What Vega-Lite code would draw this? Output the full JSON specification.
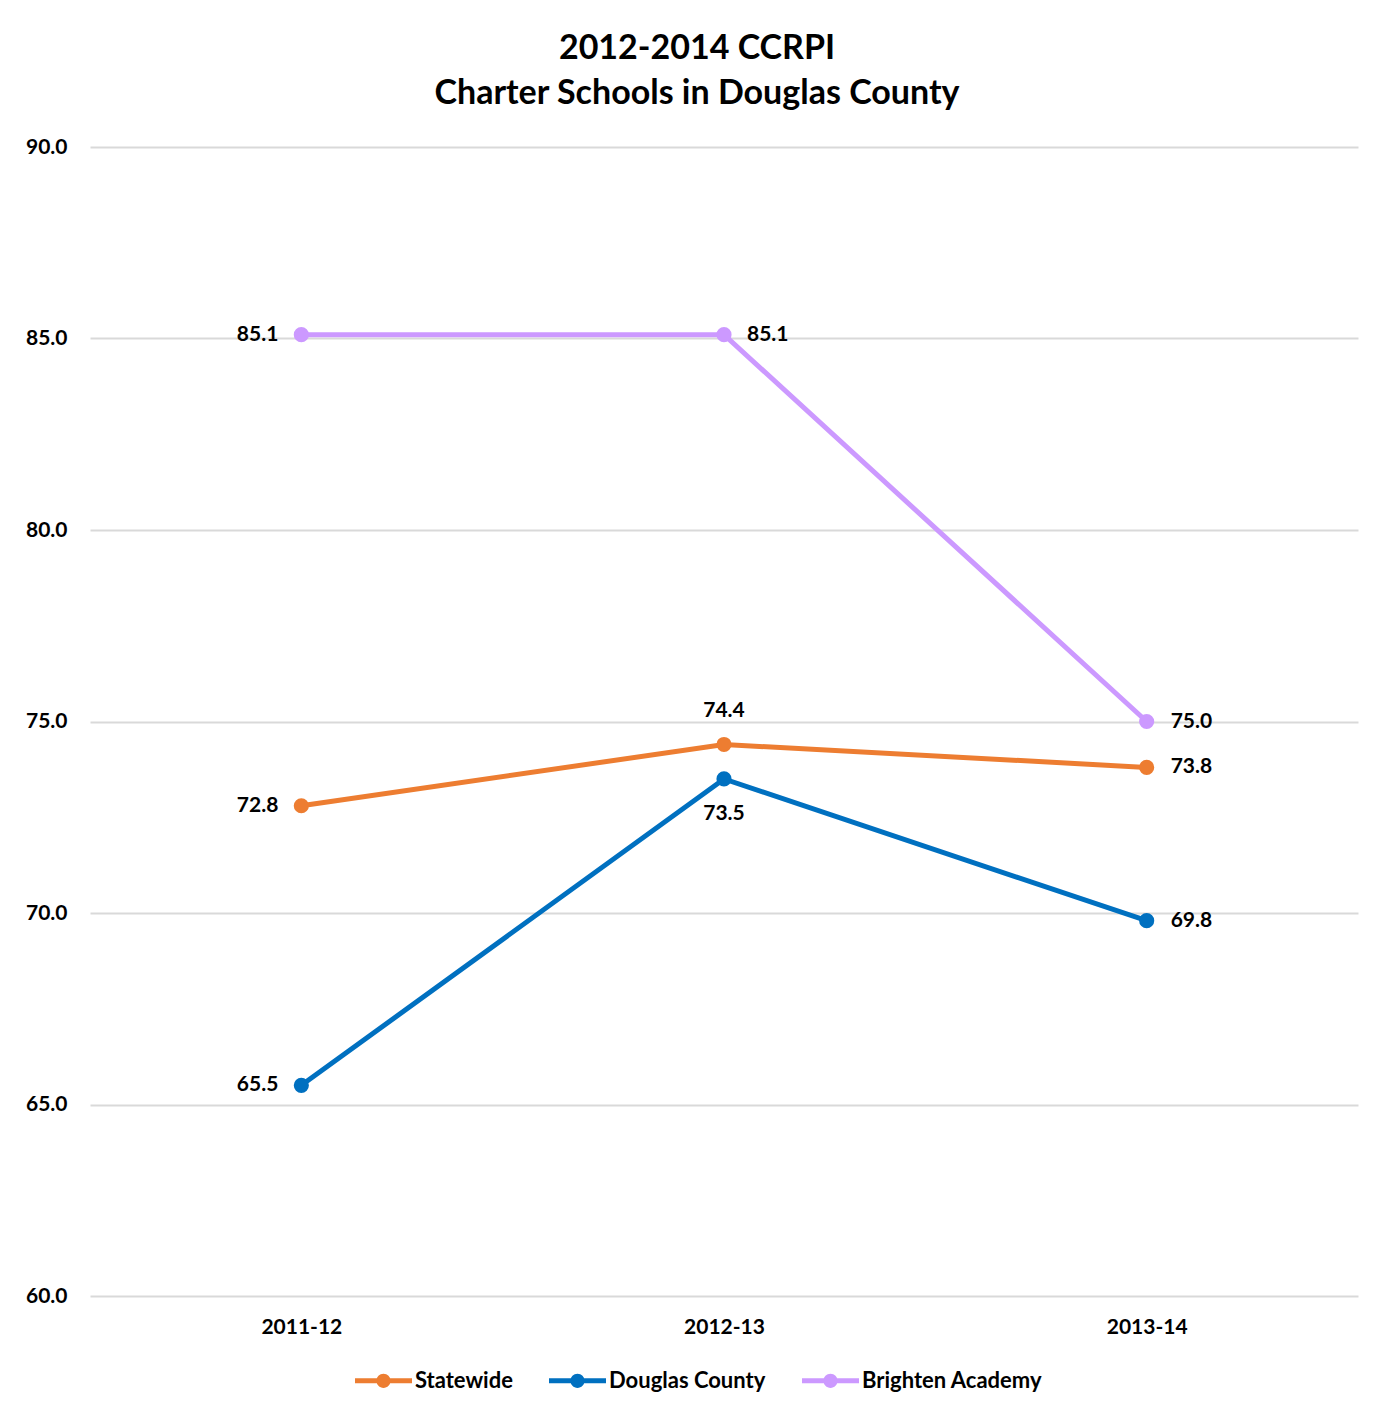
{
  "$schema": "https://vega.github.io/schema/vega-lite/v6.json",
  "width": 1268,
  "height": 1149,
  "autosize": {"type": "none"},
  "padding": {"left": 90, "top": 147, "right": 37, "bottom": 118},
  "background": "white",
  "config": {"view": {"stroke": null}},
  "title": {
    "text": ["2012-2014 CCRPI", "Charter Schools in Douglas County"],
    "font": "Lato", "fontSize": 34, "fontWeight": "bold", "color": "#000",
    "anchor": "middle", "dx": -27, "offset": 25, "lineHeight": 45
  },
  "data": {"values": [
    {"year": "2011-12", "series": "Statewide", "value": 72.8},
    {"year": "2012-13", "series": "Statewide", "value": 74.4},
    {"year": "2013-14", "series": "Statewide", "value": 73.8},
    {"year": "2011-12", "series": "Douglas County", "value": 65.5},
    {"year": "2012-13", "series": "Douglas County", "value": 73.5},
    {"year": "2013-14", "series": "Douglas County", "value": 69.8},
    {"year": "2011-12", "series": "Brighten Academy", "value": 85.1},
    {"year": "2012-13", "series": "Brighten Academy", "value": 85.1},
    {"year": "2013-14", "series": "Brighten Academy", "value": 75.0}
  ]},
  "encoding": {
    "x": {"field": "year", "type": "ordinal", "scale": {"type": "point", "padding": 0.5},
      "axis": {"title": null, "domain": false, "ticks": false, "grid": false, "labelAngle": 0, "labelPadding": 20,
        "labelFont": "Lato", "labelFontSize": 21, "labelFontWeight": "bold", "labelColor": "#000"}},
    "y": {"field": "value", "type": "quantitative", "scale": {"domain": [60, 90], "nice": false, "zero": false},
      "axis": {"title": null, "domain": false, "ticks": false, "grid": true, "gridColor": "#d9d9d9", "gridWidth": 2,
        "values": [60, 65, 70, 75, 80, 85, 90], "format": ".1f", "labelPadding": 23,
        "labelFont": "Lato", "labelFontSize": 21, "labelFontWeight": "bold", "labelColor": "#000"}}
  },
  "layer": [
    {
      "mark": {"type": "line", "strokeWidth": 5},
      "encoding": {
        "color": {"field": "series", "type": "nominal",
          "scale": {"domain": ["Statewide", "Douglas County", "Brighten Academy"], "range": ["#ED7D31", "#0070C0", "#CC99FF"]},
          "legend": {"title": null, "orient": "none", "legendX": 265, "legendY": 1205, "direction": "horizontal", "columns": 3,
            "labelFont": "Lato", "labelFontSize": 22, "labelFontWeight": "bold", "labelColor": "#000", "labelLimit": 400,
            "symbolType": "M-1,-0.09L1,-0.09L1,0.09L-1,0.09Z M0.25,0A0.25,0.25 0 1,1 -0.25,0A0.25,0.25 0 1,1 0.25,0Z",
            "symbolSize": 3249, "symbolStrokeWidth": 0, "columnPadding": 36, "labelOffset": 3,
            "encode": {"symbols": {"update": {"fill": {"scale": "color", "field": "value"}, "strokeWidth": {"value": 0}, "opacity": {"value": 1}}}}}
        }
      }
    },
    {
      "mark": {"type": "point", "filled": true, "size": 230, "opacity": 1},
      "encoding": {"color": {"field": "series", "type": "nominal"}}
    },
    {
      "transform": [{"filter": "datum.year == '2011-12'"}],
      "mark": {"type": "text", "align": "right", "baseline": "middle", "dx": -23, "font": "Lato", "fontSize": 21, "fontWeight": "bold", "color": "#000"},
      "encoding": {"text": {"field": "value", "type": "quantitative", "format": ".1f"}}
    },
    {
      "transform": [{"filter": "datum.year == '2013-14'"}],
      "mark": {"type": "text", "align": "left", "baseline": "middle", "dx": 24, "font": "Lato", "fontSize": 21, "fontWeight": "bold", "color": "#000"},
      "encoding": {"text": {"field": "value", "type": "quantitative", "format": ".1f"}}
    },
    {
      "transform": [{"filter": "datum.year == '2012-13' && datum.series == 'Statewide'"}],
      "mark": {"type": "text", "align": "center", "baseline": "middle", "dy": -33, "font": "Lato", "fontSize": 21, "fontWeight": "bold", "color": "#000"},
      "encoding": {"text": {"field": "value", "type": "quantitative", "format": ".1f"}}
    },
    {
      "transform": [{"filter": "datum.year == '2012-13' && datum.series == 'Douglas County'"}],
      "mark": {"type": "text", "align": "center", "baseline": "middle", "dy": 35, "font": "Lato", "fontSize": 21, "fontWeight": "bold", "color": "#000"},
      "encoding": {"text": {"field": "value", "type": "quantitative", "format": ".1f"}}
    },
    {
      "transform": [{"filter": "datum.year == '2012-13' && datum.series == 'Brighten Academy'"}],
      "mark": {"type": "text", "align": "left", "baseline": "middle", "dx": 23, "font": "Lato", "fontSize": 21, "fontWeight": "bold", "color": "#000"},
      "encoding": {"text": {"field": "value", "type": "quantitative", "format": ".1f"}}
    }
  ]
}
